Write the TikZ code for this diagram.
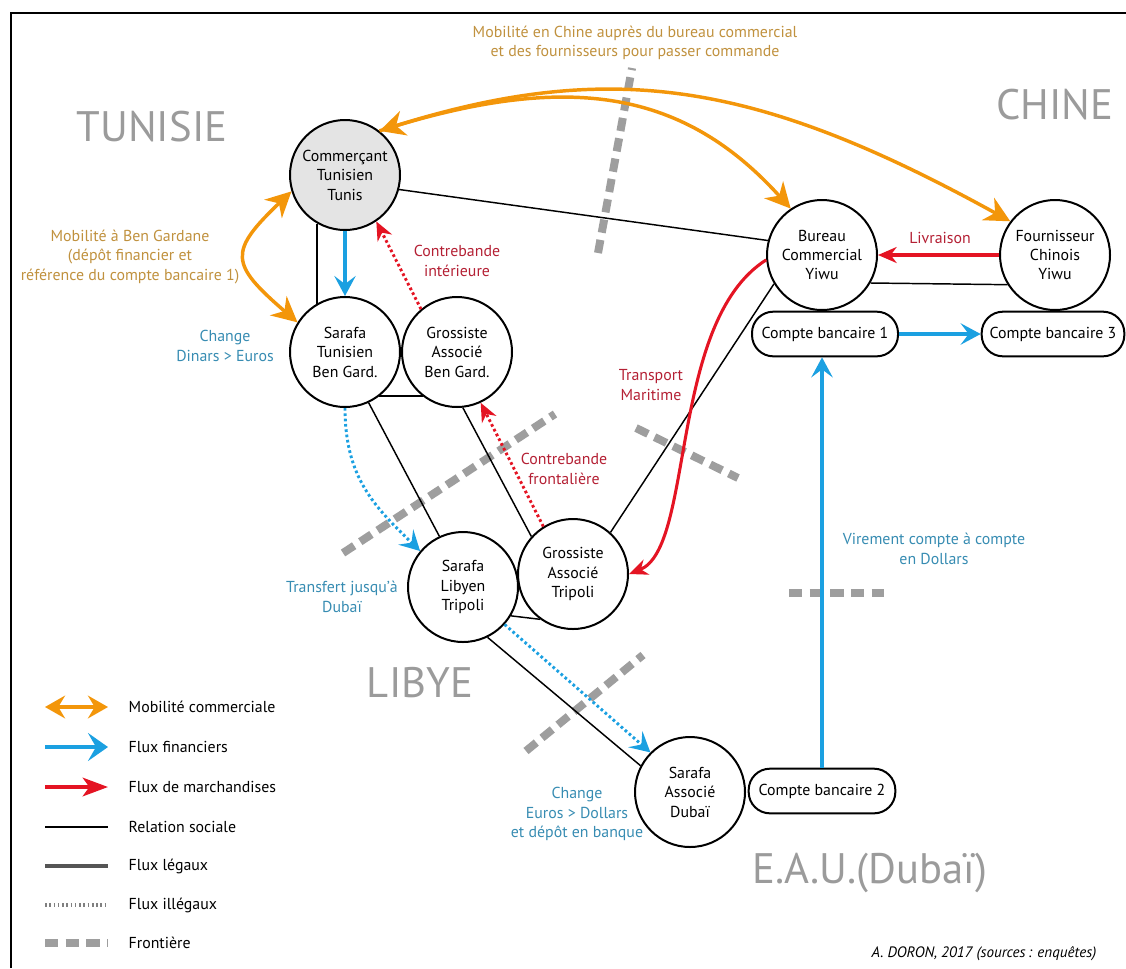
\documentclass[tikz,border=0pt]{standalone}
\usepackage{fontspec}
\setmainfont{PT Sans}
\usetikzlibrary{arrows.meta}
\definecolor{orarrow}{RGB}{243,150,10}
\definecolor{ortext}{RGB}{192,145,62}
\definecolor{bluearrow}{RGB}{27,160,225}
\definecolor{bluetext}{RGB}{55,140,178}
\definecolor{redarrow}{RGB}{228,20,35}
\definecolor{redtext}{RGB}{180,32,52}
\definecolor{countrygray}{RGB}{155,155,155}
\definecolor{bordergray}{RGB}{158,158,158}
\definecolor{nodefill}{RGB}{228,228,228}
\definecolor{legaldark}{RGB}{85,85,85}
\begin{document}
\begin{tikzpicture}[x=0.75pt,y=0.75pt,
  nodefont/.style={font=\fontsize{11.9pt}{14.6pt}\selectfont},
  actor/.style={circle, draw=black, line width=1.5pt, fill=white, inner sep=0pt,
    minimum size=82.5pt, align=center, nodefont},
  compte/.style={rectangle, rounded corners=16pt, draw=black, line width=1.5pt, fill=white,
    minimum height=33.5pt, inner sep=0pt, align=center, nodefont},
  rel/.style={draw=black, line width=1.1pt},
  frontiere/.style={draw=bordergray, line width=6pt, dash pattern=on 10pt off 5.5pt},
  mobboth/.style={draw=orarrow, line width=2.6pt,
    {Stealth[length=19pt,width=19pt,inset=6pt]}-{Stealth[length=19pt,width=19pt,inset=6pt]}},
  mobone/.style={draw=orarrow, line width=2.6pt, -{Stealth[length=19pt,width=19pt,inset=6pt]}},
  fin/.style={draw=bluearrow, line width=2.3pt, -{Stealth[length=15pt,width=16pt,inset=6pt]}},
  findot/.style={draw=bluearrow, line width=2.2pt, dash pattern=on 2pt off 2pt,
    -{Stealth[length=15pt,width=16pt,inset=6pt]}},
  goods/.style={draw=redarrow, line width=2.3pt, -{Stealth[length=14pt,width=12pt,inset=4.5pt]}},
  goodsdot/.style={draw=redarrow, line width=2.2pt, dash pattern=on 2pt off 2pt,
    -{Stealth[length=14pt,width=12pt,inset=4.5pt]}},
  lbl/.style={align=center, nodefont},
  country/.style={text=countrygray, font=\fontsize{32pt}{36pt}\selectfont},
  legtext/.style={anchor=west, nodefont}
]
\useasboundingbox (0,0) rectangle (1126,-968);
% frame
\draw[line width=1.5pt] (11,-968) -- (11,-13) -- (1126,-13);

% borders
\draw[frontiere] (598,-253) -- (632,-68);
\draw[frontiere] (343,-553) -- (555,-414);
\draw[frontiere] (636,-428) -- (738,-478);
\draw[frontiere] (526,-751) -- (643,-655);
\draw[frontiere] (789,-593) -- (884,-593);

% country labels
\node[country] (tun) at (152,-127) {TUNISIE};
\node[country] (chn) at (1055,-105) {CHINE};
\node[country] (lib) at (420,-683) {LIBYE};
\node[country] (eau) at (870,-873) {E.A.U.(Dubaï)};

% actors
\node[actor, fill=nodefill] (comm) at (345,-175) {Commerçant\\Tunisien\\Tunis};
\node[actor] (sarT) at (345,-352) {Sarafa\\Tunisien\\Ben Gard.};
\node[actor] (grBG) at (457,-352) {Grossiste\\Associé\\Ben Gard.};
\node[actor] (sarL) at (463,-587) {Sarafa\\Libyen\\Tripoli};
\node[actor] (grTr) at (573,-574) {Grossiste\\Associé\\Tripoli};
\node[actor] (sarD) at (690,-792) {Sarafa\\Associé\\Dubaï};
\node[actor] (bur) at (822,-255) {Bureau\\Commercial\\Yiwu};
\node[actor] (four) at (1055,-255) {Fournisseur\\Chinois\\Yiwu};
\node[compte, minimum width=109.5pt] (cb1) at (825,-334) {Compte bancaire 1};
\node[compte, minimum width=107pt] (cb3) at (1053,-334) {Compte bancaire 3};
\node[compte, minimum width=110pt] (cb2) at (822,-791) {Compte bancaire 2};

% social relations
\draw[rel] (comm.-15) -- (bur.165);
\draw[rel] (comm.240) -- (sarT.120);
\draw[rel] (sarT.-52) -- (grBG.232);
\draw[rel] (sarT.-65) -- (sarL.115);
\draw[rel] (grBG.-84) -- (grTr.138);
\draw[rel] (grTr.48) -- (bur.211);
\draw[rel] (bur.-30) -- (four.212);
\draw[rel] (sarL.-31) -- (grTr.234);
\draw[rel] (sarL.-64) -- (sarD.152);

% commercial mobility
\draw[mobboth] (comm.52) .. controls (612,-58) and (758,-82) .. (four.143);
\draw[mobone] (comm.52) .. controls (562,-73) and (680,-86) .. (bur.124);
\draw[mobboth] (comm.197) .. controls (228,-252) and (230,-264) .. (sarT.148);

% financial flows
\draw[fin] (comm) -- (sarT);
\draw[fin] (cb1) -- (cb3);
\draw[fin] (cb2.north) -- (cb2.north |- cb1.south);
\draw[findot] (sarT.south) .. controls (345,-478) and (375,-507) .. (sarL.140);
\draw[findot] (sarL.-42) -- (sarD.135);

% goods flows
\draw[goods] (four) -- (bur);
\draw[goodsdot] (grBG.130) -- (comm.-56);
\draw[goodsdot] (grTr.122) -- (grBG.-65);
\draw[goods] (bur.185) .. controls (668,-322) and (695,-548) .. (grTr.east);

% labels
\node[lbl, text=ortext] (ttop) at (635,-43) {Mobilité en Chine auprès du bureau commercial\\et des fournisseurs pour passer commande};
\node[lbl, text=ortext] (tbg) at (130,-257) {Mobilité à Ben Gardane\\(dépôt financier et\\référence du compte bancaire 1)};
\node[lbl, text=bluetext] (tchd) at (225,-346) {Change\\Dinars > Euros};
\node[lbl, text=redtext] (tint) at (457,-261) {Contrebande\\intérieure};
\node[lbl, text=redtext] (tliv) at (940,-238) {Livraison};
\node[lbl, text=redtext] (ttra) at (651,-385) {Transport\\Maritime};
\node[lbl, text=redtext] (tfro) at (564,-469) {Contrebande\\frontalière};
\node[lbl, text=bluetext] (ttrf) at (342,-597) {Transfert jusqu’à\\Dubaï};
\node[lbl, text=bluetext] (tvir) at (934,-549) {Virement compte à compte\\en Dollars};
\node[lbl, text=bluetext] (tche) at (577,-814) {Change\\Euros > Dollars\\et dépôt en banque};
\node[anchor=south east, font=\fontsize{11.3pt}{12pt}\selectfont\itshape] (credit) at (1101,-966) {A. DORON, 2017 (sources\,: enquêtes)};

% legend
\coordinate (la1) at (45,-707); \coordinate (lb1) at (108,-707);
\coordinate (la2) at (45,-747); \coordinate (lb2) at (108,-747);
\coordinate (la3) at (45,-787); \coordinate (lb3) at (108,-787);
\coordinate (la4) at (45,-827); \coordinate (lb4) at (108,-827);
\coordinate (la5) at (45,-866); \coordinate (lb5) at (108,-866);
\coordinate (la6) at (45,-905); \coordinate (lb6) at (108,-905);
\coordinate (la7) at (45,-943); \coordinate (lb7) at (108,-943);
\draw[draw=orarrow, line width=2.6pt,
  {Stealth[length=15pt,width=17pt,inset=5pt]}-{Stealth[length=15pt,width=17pt,inset=5pt]}] (la1) -- (lb1);
\draw[draw=bluearrow, line width=2.6pt, -{Stealth[length=15pt,width=21pt,inset=6pt]}] (la2) -- (lb2);
\draw[draw=redarrow, line width=2.6pt, -{Stealth[length=19pt,width=14pt,inset=5pt]}] (la3) -- (lb3);
\draw[rel] (la4) -- (lb4);
\draw[draw=legaldark, line width=3.2pt] (la5) -- (lb5);
\draw[draw=gray, line width=3pt, dash pattern=on 1.2pt off 2pt] (la6) -- (lb6);
\draw[draw=bordergray, line width=6pt, dash pattern=on 10pt off 5.5pt] (la7) -- (lb7);
\node[legtext] (lt1) at (124,-707) {Mobilité commerciale};
\node[legtext] (lt2) at (124,-747) {Flux financiers};
\node[legtext] (lt3) at (124,-787) {Flux de marchandises};
\node[legtext] (lt4) at (124,-827) {Relation sociale};
\node[legtext] (lt5) at (124,-866) {Flux légaux};
\node[legtext] (lt6) at (124,-905) {Flux illégaux};
\node[legtext] (lt7) at (124,-943) {Frontière};
\end{tikzpicture}
\end{document}
